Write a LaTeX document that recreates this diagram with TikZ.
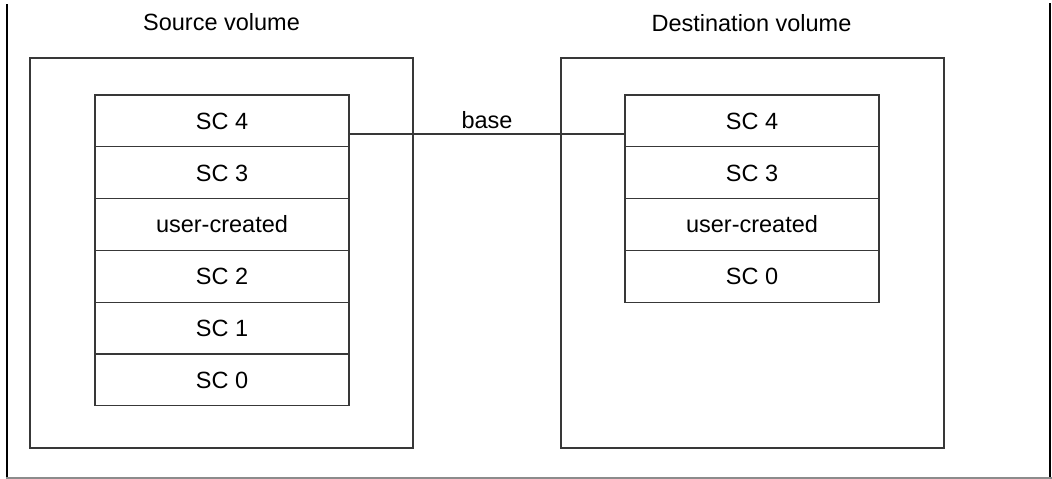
\documentclass[tikz,border=0pt]{standalone}
\usepackage{fontspec}
\setmainfont{Liberation Sans}
\usetikzlibrary{calc}
\definecolor{boxgray}{HTML}{383838}
\definecolor{basegray}{HTML}{8C8C8C}
\begin{document}
\begin{tikzpicture}[x=1pt,y=-1pt,
  every node/.style={font=\fontsize{23.5}{28}\selectfont},
  vol/.style={draw=boxgray, line width=1.3pt, minimum width=383pt, minimum height=390pt, inner sep=0pt, outer sep=0pt, anchor=north west},
  row/.style={draw=boxgray, line width=1.3pt, minimum width=254pt, minimum height=51.8pt, inner sep=0pt, outer sep=0pt, text height=16.8pt, text depth=0pt, anchor=north},
  title/.style={anchor=base, inner sep=0pt},
  link/.style={draw=boxgray, line width=1.3pt},
  frameline/.style={line width=2pt, black},
  baseline/.style={line width=1.8pt, basegray}]
\useasboundingbox (0,0) rectangle (1052,479);

% frame
\draw[frameline] (7,4) -- (7,479);
\draw[frameline] (1050,3) -- (1050,479);
\draw[baseline] (6,478) -- (1052,478);

% volumes
\node[vol] (src) at (30,58) {};
\node[vol] (dst) at (561,58) {};
\node[title] (srct) at (221.5,30) {Source volume};
\node[title] (dstt) at (751.5,31) {Destination volume};

% source stack
\node[row, anchor=north west] (s4) at (95,95) {SC 4};
\node[row] (s3) at (s4.south) {SC 3};
\node[row] (su) at (s3.south) {user-created};
\node[row] (s2) at (su.south) {SC 2};
\node[row] (s1) at (s2.south) {SC 1};
\node[row] (s0) at (s1.south) {SC 0};

% destination stack
\node[row, anchor=north west] (d4) at (625,95) {SC 4};
\node[row] (d3) at (d4.south) {SC 3};
\node[row] (du) at (d3.south) {user-created};
\node[row] (d0) at (du.south) {SC 0};

% base link
\coordinate (la) at ($(s4.south east)!0.25!(s4.north east)$);
\coordinate (lb) at ($(d4.south west)!0.25!(d4.north west)$);
\draw[link] (la) -- node[title, yshift=5pt] (basel) {base} (lb);
\end{tikzpicture}
\end{document}
